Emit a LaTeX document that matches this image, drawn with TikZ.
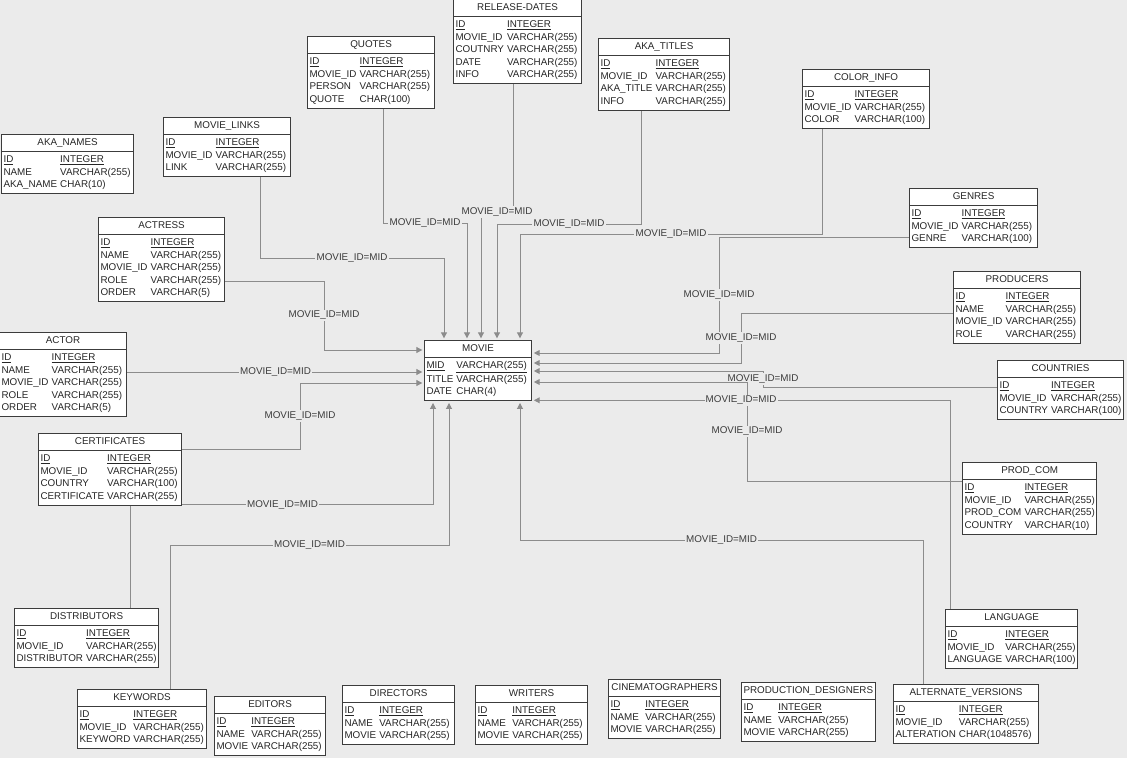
\documentclass[tikz,border=0pt]{standalone}
\usepackage{fontspec}
\setmainfont{Liberation Sans}
\usetikzlibrary{shapes.multipart,arrows.meta,calc,backgrounds}
\definecolor{Canvas}{HTML}{EBEBEB}
\definecolor{Wire}{HTML}{8C8C8C}
\definecolor{Frame}{HTML}{3C3C3C}
\definecolor{Ink}{HTML}{262626}
\newcommand{\cols}[1]{\begin{tabular}{@{}l@{\hspace{2.2pt}}l@{}}#1\end{tabular}}
\newcommand{\pkrow}{\underline{ID}&\underline{INTEGER}}
\begin{document}
\begin{tikzpicture}[x=0.025cm,y=-0.025cm,font=\fontsize{7}{8.9}\selectfont,every node/.style={text=Ink},dbtable/.style={rectangle split,rectangle split parts=2,rectangle split part align={center,left},draw=Frame,fill=white,line width=0.8pt,inner xsep=1.4pt,inner ysep=1.2pt,anchor=north west,minimum width=#1*0.025cm},rel/.style={draw=Wire,line width=0.7pt,shorten >=1.2pt,-{Triangle[length=4.2pt,width=4.2pt]}},lbl/.style={fill=Canvas,inner sep=0.8pt,text=Ink!90}]
\useasboundingbox (0,0) rectangle (1127,758);
\node[dbtable=128] (release) at (453,-1) {\strut RELEASE-DATES\nodepart{two}\cols{\pkrow\\MOVIE\_ID&VARCHAR(255)\\COUTNRY&VARCHAR(255)\\DATE&VARCHAR(255)\\INFO&VARCHAR(255)}};
\node[dbtable=127] (quotes) at (307,36) {\strut QUOTES\nodepart{two}\cols{\pkrow\\MOVIE\_ID&VARCHAR(255)\\PERSON&VARCHAR(255)\\QUOTE&CHAR(100)}};
\node[dbtable=131] (akatitles) at (598,38) {\strut AKA\_TITLES\nodepart{two}\cols{\pkrow\\MOVIE\_ID&VARCHAR(255)\\AKA\_TITLE&VARCHAR(255)\\INFO&VARCHAR(255)}};
\node[dbtable=127] (colorinfo) at (802,69) {\strut COLOR\_INFO\nodepart{two}\cols{\pkrow\\MOVIE\_ID&VARCHAR(255)\\COLOR&VARCHAR(100)}};
\node[dbtable=128] (genres) at (909,188) {\strut GENRES\nodepart{two}\cols{\pkrow\\MOVIE\_ID&VARCHAR(255)\\GENRE&VARCHAR(100)}};
\node[dbtable=132] (akanames) at (1,134) {\strut AKA\_NAMES\nodepart{two}\cols{\pkrow\\NAME&VARCHAR(255)\\AKA\_NAME&CHAR(10)}};
\node[dbtable=127] (links) at (163,117) {\strut MOVIE\_LINKS\nodepart{two}\cols{\pkrow\\MOVIE\_ID&VARCHAR(255)\\LINK&VARCHAR(255)}};
\node[dbtable=126] (actress) at (98,217) {\strut ACTRESS\nodepart{two}\cols{\pkrow\\NAME&VARCHAR(255)\\MOVIE\_ID&VARCHAR(255)\\ROLE&VARCHAR(255)\\ORDER&VARCHAR(5)}};
\node[dbtable=127] (actor) at (-1,332) {\strut ACTOR\nodepart{two}\cols{\pkrow\\NAME&VARCHAR(255)\\MOVIE\_ID&VARCHAR(255)\\ROLE&VARCHAR(255)\\ORDER&VARCHAR(5)}};
\node[dbtable=143] (certificates) at (38,433) {\strut CERTIFICATES\nodepart{two}\cols{\pkrow\\MOVIE\_ID&VARCHAR(255)\\COUNTRY&VARCHAR(100)\\CERTIFICATE&VARCHAR(255)}};
\node[dbtable=107] (movie) at (424,340) {\strut MOVIE\nodepart{two}\cols{\underline{MID}&\underline{VARCHAR(255)}\\TITLE&VARCHAR(255)\\DATE&CHAR(4)}};
\node[dbtable=127] (producers) at (953,271) {\strut PRODUCERS\nodepart{two}\cols{\pkrow\\NAME&VARCHAR(255)\\MOVIE\_ID&VARCHAR(255)\\ROLE&VARCHAR(255)}};
\node[dbtable=126] (countries) at (997,360) {\strut COUNTRIES\nodepart{two}\cols{\pkrow\\MOVIE\_ID&VARCHAR(255)\\COUNTRY&VARCHAR(100)}};
\node[dbtable=117] (prodcom) at (962,462) {\strut PROD\_COM\nodepart{two}\cols{\pkrow\\MOVIE\_ID&VARCHAR(255)\\PROD\_COM&VARCHAR(255)\\COUNTRY&VARCHAR(10)}};
\node[dbtable=144] (distributors) at (14,608) {\strut DISTRIBUTORS\nodepart{two}\cols{\pkrow\\MOVIE\_ID&VARCHAR(255)\\DISTRIBUTOR&VARCHAR(255)}};
\node[dbtable=129] (keywords) at (77,689) {\strut KEYWORDS\nodepart{two}\cols{\pkrow\\MOVIE\_ID&VARCHAR(255)\\KEYWORD&VARCHAR(255)}};
\node[dbtable=111] (editors) at (214,696) {\strut EDITORS\nodepart{two}\cols{\pkrow\\NAME&VARCHAR(255)\\MOVIE&VARCHAR(255)}};
\node[dbtable=112] (directors) at (342,685) {\strut DIRECTORS\nodepart{two}\cols{\pkrow\\NAME&VARCHAR(255)\\MOVIE&VARCHAR(255)}};
\node[dbtable=112] (writers) at (475,685) {\strut WRITERS\nodepart{two}\cols{\pkrow\\NAME&VARCHAR(255)\\MOVIE&VARCHAR(255)}};
\node[dbtable=112] (cinematographers) at (608,679) {\strut CINEMATOGRAPHERS\nodepart{two}\cols{\pkrow\\NAME&VARCHAR(255)\\MOVIE&VARCHAR(255)}};
\node[dbtable=126] (proddesigners) at (741,682) {\strut PRODUCTION\_DESIGNERS\nodepart{two}\cols{\pkrow\\NAME&VARCHAR(255)\\MOVIE&VARCHAR(255)}};
\node[dbtable=145] (altversions) at (893,684) {\strut ALTERNATE\_VERSIONS\nodepart{two}\cols{\pkrow\\MOVIE\_ID&VARCHAR(255)\\ALTERATION&CHAR(1048576)}};
\node[dbtable=131] (language) at (945,609) {\strut LANGUAGE\nodepart{two}\cols{\pkrow\\MOVIE\_ID&VARCHAR(255)\\LANGUAGE&VARCHAR(100)}};
\begin{pgfonlayer}{background}
\fill[Canvas] (0,0) rectangle (1127,758);
\draw[rel] ($(links.south west)+(97,0)$) |- node[lbl,pos=0.75]{MOVIE\_ID=MID} (444,258) -- ($(movie.north west)+(20,0)$);
\draw[rel] ($(quotes.south west)+(76,0)$) |- node[lbl,pos=0.75]{MOVIE\_ID=MID} (467,223) -- ($(movie.north west)+(43,0)$);
\draw[rel] ($(release.south west)+(60,0)$) |- node[lbl,pos=0.75]{MOVIE\_ID=MID} (481,212) -- ($(movie.north west)+(57,0)$);
\draw[rel] ($(akatitles.south west)+(43,0)$) |- node[lbl,pos=0.75]{MOVIE\_ID=MID} (497,224) -- ($(movie.north west)+(73,0)$);
\draw[rel] ($(colorinfo.south west)+(20,0)$) |- node[lbl,pos=0.75]{MOVIE\_ID=MID} (520,234) -- ($(movie.north west)+(96,0)$);
\draw[rel] ($(genres.north west)+(0,49)$) -| node[lbl,pos=0.75]{MOVIE\_ID=MID} (719,353) -- ($(movie.north east)+(0,13)$);
\draw[rel] ($(producers.north west)+(0,42)$) -| node[lbl,pos=0.75]{MOVIE\_ID=MID} (741,363) -- ($(movie.north east)+(0,23)$);
\draw[rel] ($(countries.north west)+(0,27)$) -| node[lbl,pos=0.75]{MOVIE\_ID=MID} (763,371) -- ($(movie.north east)+(0,31)$);
\draw[rel] ($(prodcom.north west)+(0,19)$) -| node[lbl,pos=0.75]{MOVIE\_ID=MID} (747,382) -- ($(movie.north east)+(0,42)$);
\draw[rel] ($(language.north west)+(5,0)$) |- node[lbl,pos=0.75]{MOVIE\_ID=MID} ($(movie.south east)+(0,-1)$);
\draw[rel] ($(altversions.north west)+(30,0)$) |- node[lbl,pos=0.75]{MOVIE\_ID=MID} (520,540) -- ($(movie.south west)+(96,0)$);
\draw[rel] ($(keywords.north west)+(93,0)$) |- node[lbl,pos=0.75]{MOVIE\_ID=MID} (449,545) -- ($(movie.south west)+(25,0)$);
\draw[rel] ($(certificates.south east)+(0,-1)$) -| node[lbl,pos=0.2]{MOVIE\_ID=MID} ($(movie.south west)+(9,0)$);
\draw[rel] ($(actor.north east)+(0,40)$) -- node[lbl]{MOVIE\_ID=MID} ($(movie.north west)+(0,32)$);
\draw[rel] ($(actress.north east)+(0,64)$) -| node[lbl,pos=0.75]{MOVIE\_ID=MID} (324,350) -- ($(movie.north west)+(0,10)$);
\draw[rel] ($(distributors.north west)+(116,0)$) |- (300,449) |- node[lbl,pos=0.25]{MOVIE\_ID=MID} ($(movie.north west)+(0,43)$);
\end{pgfonlayer}
\end{tikzpicture}
\end{document}
